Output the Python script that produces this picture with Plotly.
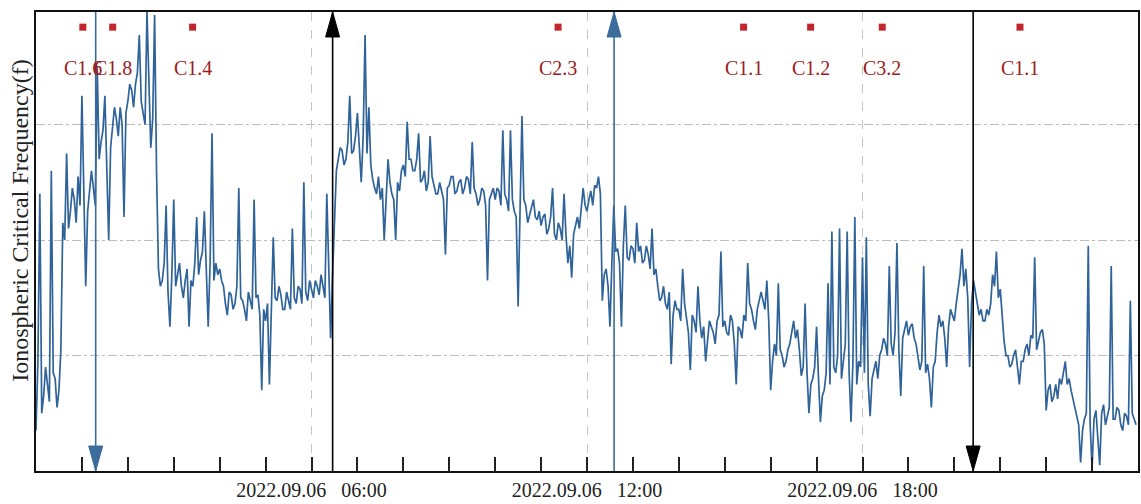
import plotly.graph_objects as go

# ---------------- data ----------------
STEP_MIN = 5  # samples every 5 minutes, plus a reading half-way between them

# value at each 5-minute mark (MHz), 2022-09-06 00:00 .. 23:55
fof2_mhz = [
    # 00h
    2.7, 6.8, 3.3, 3.5, 7.2, 3.6, 3.4, 6.3, 7.5, 6.5, 6.7, 7.1,
    # 01h
    8.5, 5.2, 6.8, 6.9, 9.0, 7.7, 8.5, 6.0, 8.0, 8.1, 8.3, 6.4,
    # 02h
    8.4, 8.6, 8.7, 9.55, 8.2, 9.95, 7.6, 9.9, 5.5, 5.3, 6.6, 4.5,
    # 03h
    6.7, 5.4, 5.2, 5.3, 4.5, 5.2, 6.4, 5.65, 6.5, 4.5, 7.85, 5.6,
    # 04h
    5.5, 5.2, 4.7, 5.05, 4.9, 6.9, 4.95, 4.6, 4.95, 6.7, 5.05, 3.4,
    # 05h
    4.6, 3.5, 6.05, 4.95, 5.05, 4.8, 4.95, 6.2, 4.9, 5.15, 7.0, 4.95,
    # 06h
    5.15, 5.3, 5.05, 5.2, 6.8, 4.3, 6.4, 7.4, 7.55, 7.4, 8.5, 7.55,
    # 07h
    8.2, 7.0, 9.55, 8.3, 7.05, 6.8, 6.7, 6.0, 7.4, 6.8, 6.0, 6.85,
    # 08h
    7.3, 8.05, 7.4, 7.2, 7.85, 7.05, 6.85, 7.8, 6.95, 6.8, 6.85, 5.75,
    # 09h
    6.95, 7.1, 6.85, 7.05, 6.9, 7.05, 7.7, 6.8, 6.7, 6.85, 5.3, 6.8,
    # 10h
    6.7, 6.85, 7.9, 6.7, 7.9, 6.5, 4.85, 8.15, 6.6, 6.45, 6.7, 6.35,
    # 11h
    6.25, 6.45, 6.2, 6.9, 6.0, 6.2, 6.8, 5.6, 5.35, 6.25, 6.2, 6.9,
    # 12h
    6.5, 6.85, 6.95, 7.1, 4.95, 5.5, 4.5, 6.6, 5.85, 4.5, 6.6, 5.65,
    # 13h
    5.85, 6.3, 5.9, 5.65, 5.75, 6.2, 5.5, 4.95, 5.2, 4.8, 3.85, 4.95,
    # 14h
    4.8, 5.5, 4.6, 3.75, 4.6, 5.2, 4.3, 3.9, 4.6, 4.4, 4.6, 5.8,
    # 15h
    4.6, 4.35, 4.6, 3.5, 4.45, 4.7, 5.6, 4.8, 4.45, 4.95, 4.95, 5.3,
    # 16h
    3.4, 4.2, 5.25, 4.0, 3.9, 4.2, 4.6, 4.45, 3.65, 4.9, 3.0, 3.6,
    # 17h
    4.5, 2.85, 3.4, 5.25, 6.15, 3.7, 6.2, 3.9, 6.15, 2.85, 6.4, 3.9,
    # 18h
    5.7, 6.05, 2.95, 3.75, 3.6, 4.1, 4.2, 5.55, 4.0, 5.95, 3.3, 4.45,
    # 19h
    4.35, 4.55, 4.2, 3.75, 5.55, 3.85, 3.1, 3.9, 4.7, 4.6, 3.8, 4.8,
    # 20h
    4.6, 5.15, 5.85, 5.5, 3.8, 5.3, 4.95, 4.8, 4.6, 4.7, 5.4, 5.8,
    # 21h
    5.15, 4.25, 4.0, 3.85, 4.1, 3.5, 3.9, 4.2, 4.35, 5.7, 4.25, 4.45,
    # 22h
    3.05, 3.5, 3.3, 3.25, 3.5, 3.9, 3.6, 3.25, 2.95, 2.15, 2.9, 5.9,
    # 23h
    2.05, 3.05, 2.1, 3.15, 2.95, 5.55, 2.9, 3.05, 2.7, 2.95, 4.95, 2.9,
]

# value read 2.5 minutes after each 5-minute mark (MHz)
fof2_half_mhz = [
    3.9, 3.0, 3.8, 3.2, 3.7, 3.1, 4.1, 6.0, 6.2, 6.9, 6.3, 6.6,
    6.9, 6.5, 7.2, 6.6, 7.4, 7.9, 7.3, 7.6, 8.3, 7.8, 8.0, 8.2,
    8.7, 8.3, 8.9, 8.4, 8.0, 8.5, 8.1, 7.2, 5.2, 5.6, 5.1, 5.4,
    5.2, 5.6, 5.0, 5.5, 5.3, 5.6, 5.4, 5.8, 5.3, 5.6, 5.3, 5.4,
    5.3, 4.9, 5.1, 4.8, 5.2, 5.0, 4.8, 5.1, 4.8, 5.0, 4.7, 4.8,
    4.9, 4.7, 5.0, 5.2, 4.8, 5.1, 4.8, 5.0, 5.2, 4.9, 5.1, 5.3,
    5.0, 5.2, 5.4, 5.0, 5.3, 5.4, 7.2, 7.6, 7.3, 7.7, 7.5, 7.8,
    7.6, 7.8, 7.5, 7.3, 6.9, 7.1, 6.9, 6.7, 7.0, 6.7, 7.0, 7.2,
    7.1, 7.4, 7.2, 7.4, 7.0, 7.2, 7.0, 7.1, 6.8, 7.0, 6.7, 6.9,
    7.1, 6.8, 7.0, 6.8, 7.1, 6.8, 6.9, 6.6, 6.9, 6.6, 6.7, 6.9,
    6.9, 6.6, 6.8, 6.5, 6.7, 6.4, 6.6, 6.7, 6.3, 6.6, 6.4, 6.5,
    6.4, 6.1, 6.4, 6.1, 6.3, 6.0, 6.1, 5.9, 6.1, 6.4, 6.5, 6.6,
    6.7, 6.6, 6.9, 6.8, 5.4, 5.2, 5.6, 5.8, 5.6, 5.9, 5.7, 5.9,
    5.6, 5.8, 5.6, 5.9, 5.5, 5.4, 5.2, 5.0, 4.9, 5.1, 4.7, 4.8,
    4.6, 4.9, 4.4, 4.7, 4.4, 4.6, 4.5, 4.3, 4.5, 4.2, 4.7, 4.5,
    4.4, 4.7, 4.2, 4.5, 4.3, 4.6, 4.9, 4.6, 4.8, 5.1, 4.8, 4.6,
    3.9, 4.0, 4.1, 3.8, 4.1, 4.4, 4.3, 4.1, 3.8, 3.7, 3.5, 3.8,
    3.6, 3.3, 3.7, 3.5, 3.8, 4.0, 3.6, 4.2, 3.7, 3.9, 3.5, 3.8,
    3.7, 3.5, 3.6, 3.9, 4.0, 4.3, 4.0, 4.2, 4.4, 4.1, 4.3, 4.6,
    4.5, 4.3, 4.0, 3.9, 3.7, 3.6, 3.8, 4.4, 4.5, 4.3, 4.5, 4.7,
    4.9, 5.4, 5.2, 5.0, 4.9, 5.1, 4.7, 4.6, 4.8, 4.9, 5.2, 5.0,
    4.6, 4.0, 3.8, 4.0, 3.8, 3.9, 4.1, 4.0, 4.3, 4.1, 4.4, 4.2,
    3.4, 3.2, 3.5, 3.6, 3.7, 3.5, 3.4, 3.1, 2.8, 2.7, 3.0, 2.8,
    2.9, 2.6, 3.0, 2.8, 3.1, 2.9, 3.1, 2.8, 3.0, 2.8, 3.0, 2.8,
]

# flare markers (time in hours, class label)
flare_hours = [1.02, 1.67, 3.41, 11.37, 15.41, 16.87, 18.43, 21.43]
flare_labels = ["C1.6", "C1.8", "C1.4", "C2.3", "C1.1", "C1.2", "C3.2", "C1.1"]

# vertical event arrows
arrow_hours = [1.30, 6.46, 12.59, 20.41]
arrow_dirs = ["down", "up", "up", "down"]
arrow_colors = ["#3b6c9c", "#000000", "#3b6c9c", "#000000"]

major_tick_hours = [6, 12, 18]
major_tick_text = ["2022.09.06\u00a0\u00a0\u00a006:00",
                   "2022.09.06\u00a0\u00a0\u00a012:00",
                   "2022.09.06\u00a0\u00a0\u00a018:00"]
hour_ticks = list(range(1, 24))
y_grid = [4, 6, 8]
Y_RANGE = [2.0, 9.95]
X_RANGE = [0.0, 24.0]

# ---------------- figure ----------------
t_hours, values = [], []
for i, (v, vh) in enumerate(zip(fof2_mhz, fof2_half_mhz)):
    t0 = i * STEP_MIN / 60
    t_hours += [t0, t0 + STEP_MIN / 120]
    values += [v, vh]

SERIF = "Liberation Serif, Times New Roman, serif"

fig = go.Figure()
fig.add_trace(go.Scatter(
    x=t_hours, y=values, mode="lines",
    line=dict(color="#2f6399", width=1.7),
    hoverinfo="skip", showlegend=False,
))

marker_y = Y_RANGE[0] + 0.967 * (Y_RANGE[1] - Y_RANGE[0])
fig.add_trace(go.Scatter(
    x=flare_hours, y=[marker_y] * len(flare_hours), mode="markers",
    marker=dict(symbol="square", size=7, color="#c2262c"),
    hoverinfo="skip", showlegend=False,
))

annotations = []
for h, lab in zip(flare_hours, flare_labels):
    annotations.append(dict(
        x=h, y=0.878, xref="x", yref="paper", text=lab, showarrow=False,
        font=dict(family=SERIF, size=20, color="#9a1c22"),
        xanchor="center", yanchor="middle",
    ))
annotations.append(dict(
    x=0, y=0.545, xref="paper", yref="paper", xshift=-16,
    text="Ionospheric Critical Frequency(f)", textangle=-90, showarrow=False,
    font=dict(family=SERIF, size=24, color="#222222"),
    xanchor="center", yanchor="middle",
))

shapes = []
for h, d, c in zip(arrow_hours, arrow_dirs, arrow_colors):
    shapes.append(dict(type="line", xref="x", yref="paper", x0=h, x1=h,
                       y0=0, y1=1, line=dict(color=c, width=1.6)))
    if d == "down":
        path, ya = "M -7,25 L 7,25 L 0,0 Z", 0
    else:
        path, ya = "M -7,-25 L 7,-25 L 0,0 Z", 1
    shapes.append(dict(type="path", xref="x", yref="paper",
                       xsizemode="pixel", ysizemode="pixel",
                       xanchor=h, yanchor=ya, path=path,
                       fillcolor=c, line=dict(color=c, width=1)))

fig.update_layout(
    width=1141, height=504,
    margin=dict(l=36, r=1, t=12, b=33),
    paper_bgcolor="white", plot_bgcolor="white",
    annotations=annotations, shapes=shapes,
    font=dict(family=SERIF, size=20, color="#222222"),
)
fig.update_xaxes(
    range=X_RANGE, tickvals=major_tick_hours, ticktext=major_tick_text,
    ticks="inside", ticklen=14, tickwidth=1.5, tickcolor="#222",
    showgrid=True, gridcolor="#c4c4c4", griddash="dash", gridwidth=1,
    showline=True, linecolor="#111", linewidth=2, mirror=True,
    minor=dict(tickvals=hour_ticks, ticks="inside", ticklen=14,
               tickwidth=1.5, tickcolor="#222", showgrid=False),
    tickfont=dict(family=SERIF, size=20, color="#222"),
    zeroline=False, fixedrange=True,
)
fig.update_yaxes(
    range=Y_RANGE, tickvals=y_grid, showticklabels=False, ticks="",
    showgrid=True, gridcolor="#bdbdbd", griddash="dashdot", gridwidth=1,
    showline=True, linecolor="#111", linewidth=1.5, mirror=True,
    zeroline=False, fixedrange=True,
)

fig.write_html(
    "out.html",
    config={"displayModeBar": False},
    post_script="document.body.style.margin='0';"
                "document.body.style.overflow='hidden';",
)
